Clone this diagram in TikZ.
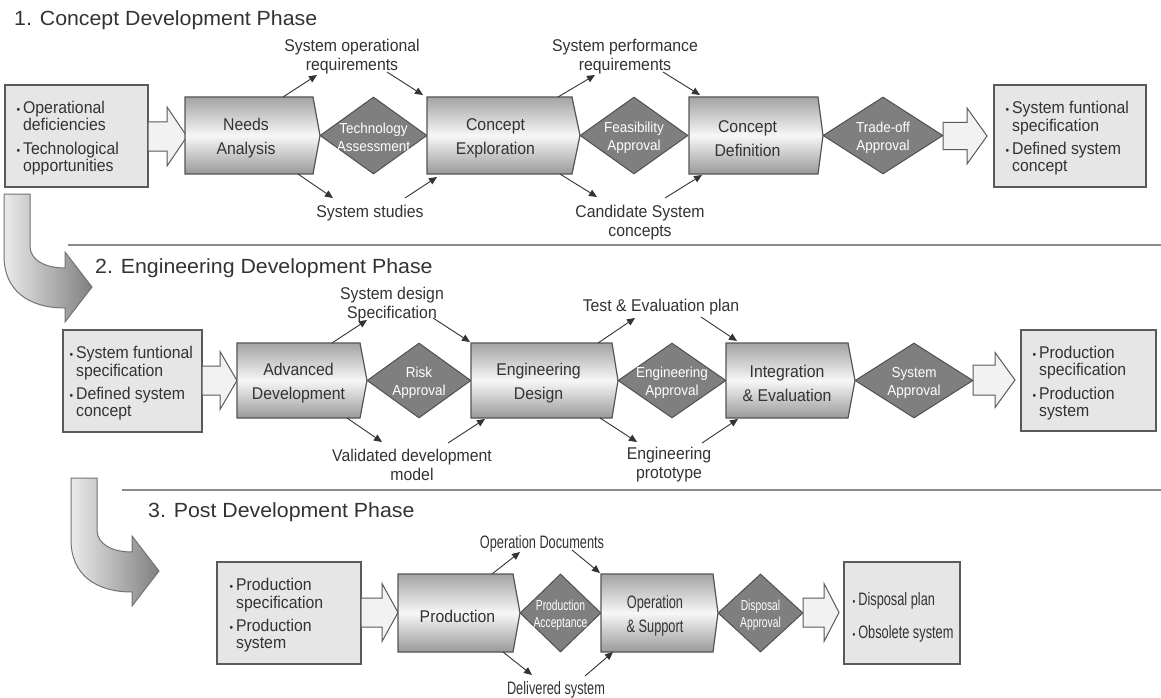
\documentclass[tikz,border=0pt]{standalone}
\usepackage{fontspec}
\setmainfont{Liberation Sans}
\newfontfamily\labfont[FakeStretch=0.93]{Liberation Sans}
\newfontfamily\narrowfont[FakeStretch=0.71]{Liberation Sans}
\newfontfamily\ttlfont[FakeStretch=1.04]{Liberation Sans}
\usetikzlibrary{shapes.geometric,arrows.meta}
\definecolor{boxfill}{HTML}{E6E6E6}
\definecolor{boxdraw}{HTML}{5A5A5A}
\definecolor{diafill}{HTML}{7F7F7F}
\definecolor{diadraw}{HTML}{505050}
\definecolor{arrowfill}{HTML}{F2F2F2}
\definecolor{phdark}{HTML}{A3A3A3}
\definecolor{phdarkb}{HTML}{999999}
\definecolor{phlight}{HTML}{F7F7F7}
\definecolor{phdraw}{HTML}{555555}
\definecolor{txt}{HTML}{333333}
\newcommand\bul{{\fontsize{11}{11}\selectfont\textbullet}}
\newcommand\phase[8]{%
  \path[phshade] (#2,#5) -- (#3,#5) -- (#4,{(#5+#6)/2}) -- (#3,#6) -- (#2,#6) -- cycle;
  \node[phtext] (#1) at ({(#2+#3)/2+#8},{(#5+#6)/2}) {#7};}
\newcommand\hollowarrow[6]{%
  \path[hollow] (#1,{#4-#5}) -- (#2,{#4-#5}) -- (#2,{#4-#6}) -- (#3,#4) -- (#2,{#4+#6}) -- (#2,{#4+#5}) -- (#1,{#4+#5}) -- cycle;}
\newcommand\bendarrow[1]{%
  \path[bendshade, shift={#1}] (4,194) -- (30,194) -- (30,246) .. controls (30,260) and (45,268) .. (65,268) -- (65,252) -- (92,287) -- (65,322) -- (65,308) .. controls (28,308) and (4,290) .. (4,256) -- cycle;}
\newcommand\conn[3]{\coordinate (#1s) at (#2); \coordinate (#1e) at (#3); \draw[arr] (#1s) -- (#1e);}
\begin{document}
\begin{tikzpicture}[x=1pt,y=-1pt,
  iobox/.style={draw=boxdraw, fill=boxfill, line width=1.3pt, inner sep=0pt, minimum height=102pt},
  boxtext/.style={anchor=west, inner sep=0pt, yshift=-3pt, text=txt, font=\labfont\fontsize{17}{17}\selectfont},
  phshade/.style={draw=phdraw, line width=1.2pt, top color=phdark, bottom color=phdarkb, middle color=phlight, line join=miter},
  phtext/.style={align=center, text=txt, yshift=-3pt, font=\labfont\fontsize{17}{24}\selectfont},
  dia/.style={diamond, draw=diadraw, fill=diafill, line width=1pt, inner sep=0pt},
  diatext/.style={text=white, align=center, yshift=-2pt, font=\labfont\fontsize{14.5}{18}\selectfont},
  diatextn/.style={text=white, align=center, yshift=-2pt, font=\narrowfont\fontsize{14.5}{17}\selectfont},
  lab/.style={align=center, text=txt, yshift=-2pt, font=\labfont\fontsize{17}{19}\selectfont},
  labn/.style={align=center, text=txt, yshift=-2pt, font=\narrowfont\fontsize{18}{19}\selectfont},
  arr/.style={draw=black!80, line width=0.9pt, -{Triangle[length=8pt,width=7pt]}},
  hollow/.style={draw=boxdraw, fill=arrowfill, line width=1pt, line join=miter},
  bendshade/.style={draw=black!55, line width=1pt, left color=black!8, right color=black!50, line join=miter},
  sep/.style={draw=black!45, line width=1.5pt},
  ttl/.style={anchor=west, inner sep=0pt, text=txt, font=\ttlfont\fontsize{20.5}{22}\selectfont},
]
\useasboundingbox (0,0) rectangle (1161,698);
\fill[white] (0,0) rectangle (1161,698);

% titles and separators
\node[ttl] (t1) at (14,20) {1. Concept Development Phase};
\node[ttl] (t2) at (95,268) {2. Engineering Development Phase};
\node[ttl] (t3) at (148,512) {3. Post Development Phase};
\draw[sep] (68,245) -- (1161,245);
\draw[sep] (122,490) -- (1161,490);

% bend arrows
\bendarrow{(0,0)}
\bendarrow{(67,284)}

% ---------------- Row 1 ----------------
\node[iobox, minimum width=143pt] (in1) at (76.5,136) {};
\node[boxtext] at ([xshift=12pt]in1.west) {\begin{tabular}{@{}l@{\hspace{3pt}}l@{}}\bul&Operational\\&deficiencies\\[6pt]\bul&Technological\\&opportunities\end{tabular}};
\hollowarrow{148}{167}{187}{136.5}{14.5}{29.5}
\phase{na}{185}{313}{320}{97}{174}{Needs\\Analysis}{-3}
\node[dia, minimum width=107pt, minimum height=77pt] (d1) at (373.5,135.5) {};
\node[diatext] at (d1) {Technology\\Assessment};
\phase{ce}{427}{572}{580}{97}{174}{Concept\\Exploration}{-4}
\node[dia, minimum width=108pt, minimum height=77pt] (d2) at (634,135.5) {};
\node[diatext] at (d2) {Feasibility\\Approval};
\phase{cd}{689}{818}{823}{97}{174}{Concept\\Definition}{-6}
\node[dia, minimum width=120pt, minimum height=77pt] (d3) at (883,135.5) {};
\node[diatext] at (d3) {Trade-off\\Approval};
\hollowarrow{943}{967}{987}{136}{13.5}{28}
\node[iobox, minimum width=152pt] (out1) at (1070,136) {};
\node[boxtext] at ([xshift=12pt]out1.west) {\begin{tabular}{@{}l@{\hspace{3pt}}l@{}}\bul&System funtional\\&specification\\[6pt]\bul&Defined system\\&concept\end{tabular}};

\node[lab] (l1a) at (352,55) {System operational\\requirements};
\node[lab] (l1b) at (370,211) {System studies};
\node[lab] (l1c) at (625,55) {System performance\\requirements};
\node[lab] (l1d) at (640,221) {Candidate System\\concepts};
\conn{a1}{283,97}{317,75}
\conn{a2}{387,72}{423,95}
\conn{a3}{298,174}{333,198}
\conn{a4}{405,198}{437,177}
\conn{a5}{558,97}{595,75}
\conn{a6}{663,72}{700,95}
\conn{a7}{560,174}{597,197}
\conn{a8}{665,198}{702,175}

% ---------------- Row 2 ----------------
\node[iobox, minimum width=139pt] (in2) at (132.5,381) {};
\node[boxtext] at ([xshift=7pt]in2.west) {\begin{tabular}{@{}l@{\hspace{3pt}}l@{}}\bul&System funtional\\&specification\\[6pt]\bul&Defined system\\&concept\end{tabular}};
\hollowarrow{202}{220}{237}{380.5}{14.5}{29}
\phase{ad}{237}{360}{367}{343}{418}{Advanced\\Development}{0}
\node[dia, minimum width=104pt, minimum height=75pt] (d4) at (419,380.5) {};
\node[diatext] at (d4) {Risk\\Approval};
\phase{ed}{471}{612}{618}{343}{418}{Engineering\\Design}{-3}
\node[dia, minimum width=108pt, minimum height=75pt] (d5) at (672,380.5) {};
\node[diatext] at (d5) {Engineering\\Approval};
\phase{ie}{726}{848}{855}{343}{418}{Integration\\\& Evaluation}{0}
\node[dia, minimum width=118pt, minimum height=75pt] (d6) at (914,380.5) {};
\node[diatext] at (d6) {System\\Approval};
\hollowarrow{973}{995}{1015}{380}{15}{27.5}
\node[iobox, minimum width=135pt, minimum height=101pt] (out2) at (1088.5,380.5) {};
\node[boxtext] at ([xshift=12pt]out2.west) {\begin{tabular}{@{}l@{\hspace{3pt}}l@{}}\bul&Production\\&specification\\[6pt]\bul&Production\\&system\end{tabular}};

\node[lab] (l2a) at (392,302.5) {System design\\Specification};
\node[lab] (l2b) at (661,305) {Test \& Evaluation plan};
\node[lab] (l2c) at (412,462.5) {Validated development\\model};
\node[lab] (l2d) at (669,462.5) {Engineering\\prototype};
\conn{b1}{332,343}{367,320}
\conn{b2}{433,318}{470,342}
\conn{b3}{347,418}{382,442}
\conn{b4}{448,443}{485,419}
\conn{b5}{598,343}{635,318}
\conn{b6}{701,317}{737,341}
\conn{b7}{600,418}{637,442}
\conn{b8}{702,443}{738,419}

% ---------------- Row 3 ----------------
\node[iobox, minimum width=144pt] (in3) at (289,613) {};
\node[boxtext] at ([xshift=13pt]in3.west) {\begin{tabular}{@{}l@{\hspace{3pt}}l@{}}\bul&Production\\&specification\\[6pt]\bul&Production\\&system\end{tabular}};
\hollowarrow{361}{382}{398}{612.5}{14.5}{29}
\phase{pr}{398}{513}{520}{574}{652}{Production}{2}
\node[dia, minimum width=81pt, minimum height=78pt] (d7) at (560.5,613) {};
\node[diatextn] at (d7) {Production\\Acceptance};
\phase{os}{601}{713}{718}{574}{652}{{\narrowfont\fontsize{18}{24}\selectfont Operation}\\{\narrowfont\fontsize{18}{24}\selectfont\& Support}}{-2}
\node[dia, minimum width=85pt, minimum height=78pt] (d8) at (760.5,613) {};
\node[diatextn] at (d8) {Disposal\\Approval};
\hollowarrow{803}{824}{839}{612.5}{14.5}{29}
\node[iobox, minimum width=116pt] (out3) at (902,613) {};
\node[boxtext, yshift=-2pt, font=\narrowfont\fontsize{18}{17}\selectfont] at ([xshift=9pt]out3.west) {\begin{tabular}{@{}l@{\hspace{3pt}}l@{}}\bul&Disposal plan\\[15pt]\bul&Obsolete system\end{tabular}};

\node[labn] (l3a) at (542,542) {Operation Documents};
\node[labn] (l3b) at (556,688) {Delivered system};
\conn{c1}{492,574}{520,552}
\conn{c2}{572,550}{600,573}
\conn{c3}{503,652}{532,675}
\conn{c4}{585,676}{613,652}
\end{tikzpicture}
\end{document}
